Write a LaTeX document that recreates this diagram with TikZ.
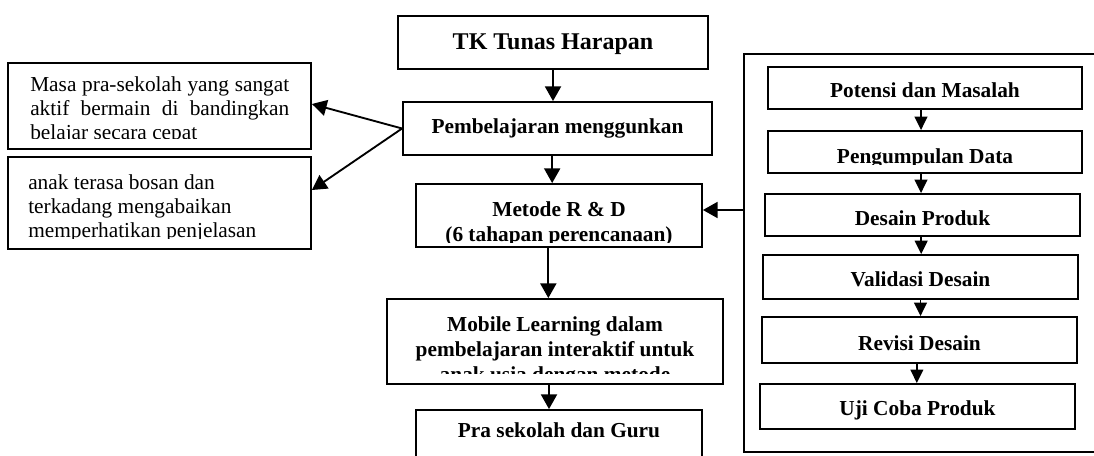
\documentclass[tikz,border=0pt]{standalone}
\usepackage{fontspec}
\setmainfont{Liberation Serif}
\usetikzlibrary{arrows.meta}
\newcommand\bx[5]{\node[box, minimum width={(#4-#2)*0.75pt}, minimum height={(#5-#3)*0.75pt}] (#1) at ({(#2+#4)/2},{(#3+#5)/2}) {};}
\begin{document}
\begin{tikzpicture}[x=0.75pt,y=-0.75pt,
  box/.style={draw, line width=1.4pt, inner sep=0pt},
  arr/.style={line width=1.4pt, -{Triangle[length=11pt,width=12pt]}},
  arrs/.style={line width=1.3pt, -{Triangle[length=10pt,width=9.5pt]}},
  bt/.style={anchor=base, inner sep=0pt, font=\fontsize{16}{18.75}\selectfont\bfseries},
  rt/.style={anchor=base west, inner sep=0pt, font=\fontsize{16}{18}\selectfont},
]
\useasboundingbox (0,0) rectangle (1094,456);
\clip (0,0) rectangle (1094,456);

% centre column
\bx{tk}{398}{16}{708}{69}
\node[bt, font=\fontsize{18}{20}\selectfont\bfseries] (ttk) at (553,50) {TK Tunas Harapan};

\bx{pemb}{403}{102}{712}{155}
\node[bt] (tpemb) at (557.5,133) {Pembelajaran menggunkan};

\bx{met}{416}{184}{702}{247}
\begin{scope}
\clip (418,186) rectangle (700,242);
\node[bt] (tmet) at (559,216) {\parbox[t]{210pt}{\centering Metode R \& D\\(6 tahapan perencanaan)}};
\end{scope}

\bx{mob}{387}{299}{723}{384}
\begin{scope}
\clip (389,301) rectangle (721,373);
\node[bt] (tmob) at (555,331) {\parbox[t]{245pt}{\centering Mobile Learning dalam\\pembelajaran interaktif untuk\\anak usia dengan metode}};
\end{scope}

\bx{pra}{416}{410}{702}{480}
\node[bt] (tpra) at (559,437) {Pra sekolah dan Guru};

% left boxes
\bx{m1}{8}{63}{311}{149}
\begin{scope}
\clip (10,65) rectangle (309,139);
\node[rt] (tm1) at (30,92) {\parbox[t]{194.25pt}{Masa pra-sekolah yang sangat\linebreak aktif bermain di bandingkan\linebreak belajar secara cepat}};
\end{scope}

\bx{m2}{8}{157}{311}{249}
\begin{scope}
\clip (10,159) rectangle (309,238);
\node[rt] (tm2) at (28,189) {\parbox[t]{210pt}{\raggedright anak terasa bosan dan\\terkadang mengabaikan\\memperhatikan penjelasan}};
\end{scope}

% right group
\bx{outer}{744}{54}{1120}{452}

\bx{p1}{768}{67}{1082}{109}
\node[bt] (tp1) at (925,98) {Potensi dan Masalah};
\bx{p2}{768}{131}{1082}{173}
\begin{scope}
\clip (770,133) rectangle (1080,164);
\node[bt] (tp2) at (925,163) {Pengumpulan Data};
\end{scope}
\bx{p3}{765}{194}{1080}{236}
\node[bt] (tp3) at (922.5,225) {Desain Produk};
\bx{p4}{763}{255}{1078}{299}
\node[bt] (tp4) at (920.5,286) {Validasi Desain};
\bx{p5}{762}{317}{1077}{363}
\node[bt] (tp5) at (919.5,350) {Revisi Desain};
\bx{p6}{760}{384}{1075}{429}
\node[bt] (tp6) at (917.5,415) {Uji Coba Produk};

% connectors
\draw[arr] (tk.south) -- (tk.south |- pemb.north);
\draw[arr] ([xshift=-4pt]pemb.south) -- ([xshift=-4pt]pemb.south |- met.north);
\draw[arr] ([xshift=-8pt]met.south) -- ([xshift=-8pt]met.south |- mob.north);
\draw[arr] ([xshift=-4.5pt]mob.south) -- ([xshift=-4.5pt]mob.south |- pra.north);
\draw[arr] (pemb.west) -- ([yshift=1.5pt]m1.east);
\draw[arr] (pemb.west) -- ([yshift=9.75pt]m2.east);
\coordinate (oa) at (744,210);
\draw[arr] (oa) -- (oa -| met.east);

\draw[arrs] ([xshift=-3pt]p1.south) -- ([xshift=-3pt]p1.south |- p2.north);
\draw[arrs] ([xshift=-3pt]p2.south) -- ([xshift=-3pt]p2.south |- p3.north);
\draw[arrs] ([xshift=-1pt]p3.south) -- ([xshift=-1pt]p3.south |- p4.north);
\draw[arrs] (p4.south) -- (p4.south |- p5.north);
\draw[arrs] ([xshift=-2pt]p5.south) -- ([xshift=-2pt]p5.south |- p6.north);
\end{tikzpicture}
\end{document}
